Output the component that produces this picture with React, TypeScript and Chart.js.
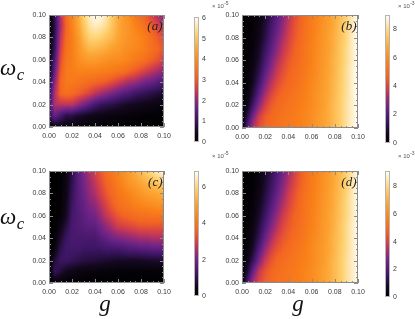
import React, { useEffect, useRef } from "react";
import { Chart, registerables } from "chart.js";

Chart.register(...registerables);

// ---------- data ----------
const G_GRID = [0, 0.005, 0.01, 0.015, 0.02, 0.025, 0.03, 0.035, 0.04, 0.045, 0.05, 0.055, 0.06, 0.065, 0.07, 0.075, 0.08, 0.085, 0.09, 0.095, 0.1];
const W_GRID = [0.1, 0.09, 0.08, 0.07, 0.06, 0.05, 0.04, 0.03, 0.02, 0.01, 0];
const AXIS_TICKS = [0, 0.02, 0.04, 0.06, 0.08, 0.1];
const MINOR_TICKS = [0, 0.005, 0.01, 0.015, 0.02, 0.025, 0.03, 0.035, 0.04, 0.045, 0.05, 0.055, 0.06, 0.065, 0.07, 0.075, 0.08, 0.085, 0.09, 0.095, 0.1];

// panel (a), units of 1e-5, rows from omega_c = 0.10 down to 0.00
const PANEL_A_VALUES = [
  [0, 0.9, 2.3, 3.3, 3.9, 4.5, 5.2, 5.7, 6.0, 5.9, 5.6, 5.1, 4.6, 4.3, 4.0, 3.6, 3.3, 3.0, 2.6, 2.2, 1.9],
  [0, 0.8, 2.2, 3.2, 3.8, 4.4, 5.0, 5.5, 5.7, 5.6, 5.4, 5.0, 4.6, 4.3, 4.1, 3.8, 3.6, 3.3, 3.0, 2.7, 2.4],
  [0.05, 0.9, 2.4, 3.3, 3.7, 4.2, 4.8, 5.2, 5.3, 5.2, 5.0, 4.8, 4.5, 4.3, 4.1, 4.0, 3.8, 3.6, 3.3, 3.0, 2.8],
  [0.1, 1.0, 2.6, 3.4, 3.7, 4.1, 4.5, 4.8, 4.8, 4.7, 4.6, 4.4, 4.3, 4.1, 4.0, 3.9, 3.8, 3.6, 3.4, 3.2, 2.9],
  [0.15, 1.3, 2.8, 3.5, 3.7, 4.0, 4.2, 4.3, 4.3, 4.2, 4.1, 4.0, 4.0, 3.9, 3.8, 3.6, 3.5, 3.3, 3.1, 2.9, 2.6],
  [0.25, 1.6, 3.0, 3.6, 3.7, 3.8, 3.8, 3.8, 3.8, 3.7, 3.7, 3.6, 3.5, 3.4, 3.2, 3.0, 2.8, 2.6, 2.4, 2.2, 2.0],
  [0.5, 2.0, 3.2, 3.6, 3.6, 3.5, 3.4, 3.3, 3.2, 3.1, 3.0, 2.8, 2.6, 2.4, 2.2, 2.1, 1.9, 1.7, 1.6, 1.4, 1.3],
  [0.8, 2.3, 3.2, 3.4, 3.3, 3.1, 2.9, 2.7, 2.4, 2.2, 2.0, 1.8, 1.6, 1.4, 1.3, 1.1, 1.0, 0.9, 0.8, 0.7, 0.6],
  [1.0, 2.3, 2.4, 2.4, 2.4, 2.1, 1.8, 1.5, 1.2, 1.0, 0.9, 0.8, 0.7, 0.6, 0.5, 0.45, 0.4, 0.35, 0.3, 0.25, 0.2],
  [0.9, 1.6, 1.2, 0.8, 0.8, 0.6, 0.5, 0.4, 0.35, 0.3, 0.25, 0.22, 0.2, 0.17, 0.15, 0.12, 0.1, 0.08, 0.07, 0.06, 0.05],
  [0.2, 0.3, 0.3, 0.2, 0.15, 0.1, 0.08, 0.06, 0.05, 0.04, 0.03, 0.03, 0.03, 0.02, 0.02, 0.02, 0.02, 0.02, 0.01, 0.01, 0.01],
];

// panel (b), units of 1e-3
const PANEL_B_VALUES = [
  [0, 0.05, 0.15, 0.4, 0.9, 1.5, 2.1, 2.8, 3.5, 4.1, 4.6, 5.0, 5.4, 5.8, 6.1, 6.5, 6.9, 7.3, 7.8, 8.4, 9.0],
  [0, 0.06, 0.2, 0.5, 1.0, 1.7, 2.3, 3.0, 3.7, 4.3, 4.7, 5.1, 5.5, 5.8, 6.2, 6.5, 6.9, 7.4, 7.9, 8.4, 9.0],
  [0, 0.08, 0.25, 0.6, 1.2, 1.9, 2.6, 3.3, 3.9, 4.4, 4.8, 5.2, 5.5, 5.9, 6.2, 6.6, 7.0, 7.4, 7.9, 8.5, 9.0],
  [0, 0.1, 0.3, 0.8, 1.5, 2.2, 2.9, 3.6, 4.1, 4.6, 4.9, 5.3, 5.6, 5.9, 6.3, 6.6, 7.0, 7.5, 8.0, 8.5, 9.0],
  [0, 0.12, 0.4, 1.0, 1.8, 2.6, 3.3, 3.9, 4.4, 4.7, 5.0, 5.3, 5.6, 6.0, 6.3, 6.7, 7.1, 7.5, 8.0, 8.5, 9.0],
  [0, 0.15, 0.6, 1.3, 2.2, 3.0, 3.7, 4.2, 4.6, 4.9, 5.1, 5.4, 5.7, 6.0, 6.4, 6.7, 7.1, 7.6, 8.1, 8.6, 9.0],
  [0, 0.2, 0.8, 1.7, 2.7, 3.5, 4.1, 4.5, 4.8, 5.0, 5.2, 5.5, 5.8, 6.1, 6.4, 6.8, 7.2, 7.6, 8.1, 8.6, 9.0],
  [0, 0.3, 1.2, 2.3, 3.3, 4.0, 4.5, 4.8, 5.0, 5.2, 5.4, 5.6, 5.9, 6.2, 6.5, 6.8, 7.2, 7.7, 8.1, 8.6, 9.0],
  [0, 0.6, 1.8, 3.0, 3.9, 4.5, 4.8, 5.0, 5.2, 5.3, 5.5, 5.7, 5.9, 6.2, 6.5, 6.9, 7.3, 7.7, 8.2, 8.6, 9.0],
  [0, 1.3, 2.8, 3.9, 4.5, 4.8, 5.0, 5.2, 5.3, 5.4, 5.6, 5.8, 6.0, 6.3, 6.6, 6.9, 7.3, 7.7, 8.2, 8.6, 9.0],
  [0, 2.2, 3.6, 4.3, 4.7, 4.9, 5.1, 5.2, 5.3, 5.5, 5.6, 5.8, 6.0, 6.3, 6.6, 6.9, 7.3, 7.7, 8.2, 8.6, 9.0],
];

// panel (c), units of 1e-5
const PANEL_C_VALUES = [
  [0, 0.01, 0.05, 0.3, 0.9, 1.6, 2.1, 2.6, 3.0, 3.4, 3.8, 4.1, 4.4, 4.7, 5.0, 5.3, 5.6, 5.9, 6.2, 6.5, 6.8],
  [0, 0.01, 0.06, 0.35, 1.0, 1.6, 2.0, 2.4, 2.8, 3.2, 3.6, 3.9, 4.2, 4.5, 4.8, 5.0, 5.2, 5.4, 5.6, 5.8, 6.0],
  [0, 0.02, 0.08, 0.4, 1.1, 1.6, 1.9, 2.3, 2.6, 3.0, 3.4, 3.7, 4.0, 4.2, 4.4, 4.6, 4.8, 5.0, 5.1, 5.2, 5.3],
  [0, 0.03, 0.1, 0.5, 1.2, 1.6, 1.8, 2.1, 2.3, 2.7, 3.1, 3.5, 3.8, 4.0, 4.1, 4.3, 4.4, 4.5, 4.6, 4.7, 4.7],
  [0, 0.04, 0.15, 0.6, 1.3, 1.5, 1.7, 1.9, 2.0, 2.4, 2.8, 3.1, 3.4, 3.6, 3.7, 3.8, 3.9, 3.9, 4.0, 4.0, 4.0],
  [0, 0.06, 0.4, 0.9, 1.4, 1.5, 1.6, 1.7, 1.7, 2.0, 2.3, 2.6, 2.9, 3.0, 3.1, 3.2, 3.3, 3.3, 3.3, 3.3, 3.3],
  [0, 0.1, 0.7, 1.2, 1.4, 1.4, 1.4, 1.4, 1.4, 1.6, 1.8, 2.0, 2.1, 2.2, 2.3, 2.4, 2.5, 2.5, 2.6, 2.6, 2.6],
  [0, 0.3, 1.0, 1.3, 1.3, 1.3, 1.2, 1.2, 1.2, 1.2, 1.3, 1.3, 1.3, 1.4, 1.5, 1.5, 1.6, 1.6, 1.7, 1.7, 1.7],
  [0, 0.8, 1.2, 1.2, 1.1, 1.0, 0.9, 0.85, 0.8, 0.75, 0.7, 0.65, 0.6, 0.6, 0.6, 0.6, 0.6, 0.65, 0.65, 0.7, 0.7],
  [0, 1.1, 0.8, 0.5, 0.4, 0.3, 0.25, 0.2, 0.2, 0.18, 0.16, 0.15, 0.14, 0.13, 0.12, 0.11, 0.1, 0.1, 0.1, 0.1, 0.1],
  [0, 0.1, 0.05, 0.03, 0.02, 0.02, 0.01, 0.01, 0.01, 0.01, 0.01, 0.01, 0.01, 0.01, 0.01, 0, 0, 0, 0, 0, 0],
];

// panel (d), units of 1e-3
const PANEL_D_VALUES = [
  [0, 0.04, 0.12, 0.35, 0.8, 1.3, 1.9, 2.5, 3.2, 3.9, 4.5, 5.0, 5.4, 5.8, 6.1, 6.5, 6.9, 7.3, 7.8, 8.4, 9.0],
  [0, 0.05, 0.15, 0.4, 0.9, 1.5, 2.1, 2.8, 3.5, 4.1, 4.6, 5.1, 5.5, 5.8, 6.2, 6.5, 6.9, 7.4, 7.9, 8.4, 9.0],
  [0, 0.06, 0.2, 0.5, 1.1, 1.7, 2.4, 3.1, 3.8, 4.3, 4.8, 5.2, 5.5, 5.9, 6.2, 6.6, 7.0, 7.4, 7.9, 8.5, 9.0],
  [0, 0.08, 0.25, 0.7, 1.3, 2.0, 2.7, 3.4, 4.0, 4.5, 4.9, 5.3, 5.6, 5.9, 6.3, 6.6, 7.0, 7.5, 8.0, 8.5, 9.0],
  [0, 0.1, 0.35, 0.9, 1.6, 2.4, 3.1, 3.8, 4.3, 4.7, 5.0, 5.3, 5.6, 6.0, 6.3, 6.7, 7.1, 7.5, 8.0, 8.5, 9.0],
  [0, 0.12, 0.5, 1.2, 2.0, 2.8, 3.5, 4.1, 4.5, 4.8, 5.1, 5.4, 5.7, 6.0, 6.4, 6.7, 7.1, 7.6, 8.1, 8.6, 9.0],
  [0, 0.16, 0.7, 1.5, 2.5, 3.3, 4.0, 4.4, 4.7, 5.0, 5.2, 5.5, 5.8, 6.1, 6.4, 6.8, 7.2, 7.6, 8.1, 8.6, 9.0],
  [0, 0.25, 1.0, 2.1, 3.1, 3.9, 4.4, 4.7, 5.0, 5.2, 5.4, 5.6, 5.9, 6.2, 6.5, 6.8, 7.2, 7.7, 8.1, 8.6, 9.0],
  [0, 0.5, 1.6, 2.8, 3.8, 4.4, 4.8, 5.0, 5.2, 5.3, 5.5, 5.7, 5.9, 6.2, 6.5, 6.9, 7.3, 7.7, 8.2, 8.6, 9.0],
  [0, 1.1, 2.6, 3.8, 4.4, 4.8, 5.0, 5.2, 5.3, 5.4, 5.6, 5.8, 6.0, 6.3, 6.6, 6.9, 7.3, 7.7, 8.2, 8.6, 9.0],
  [0, 2.0, 3.5, 4.2, 4.6, 4.9, 5.1, 5.2, 5.3, 5.5, 5.6, 5.8, 6.0, 6.3, 6.6, 6.9, 7.3, 7.7, 8.2, 8.6, 9.0],
];

const CB_A_TICKS = [0, 1, 2, 3, 4, 5, 6];
const CB_B_TICKS = [0, 2, 4, 6, 8];
const CB_C_TICKS = [0, 2, 4, 6];
const CB_D_TICKS = [0, 2, 4, 6, 8];
const CB_A_MAX = 6.05;
const CB_B_MAX = 9.0;
const CB_C_MAX = 6.9;
const CB_D_MAX = 9.1;
const CB_A_EXP = "-5";
const CB_B_EXP = "-3";
const CB_C_EXP = "-5";
const CB_D_EXP = "-3";
const PANEL_LABELS = ["(a)", "(b)", "(c)", "(d)"];
const X_TITLE = "g";
const Y_TITLE = "ω";
const Y_TITLE_SUB = "c";

// ---------- styling helpers ----------
const SANS = "'Liberation Sans', Arial, sans-serif";
const SERIF = "'Liberation Serif', 'Times New Roman', serif";
const TICK_COLOR = "#3a3a3a";
const FRAME_COLOR = "#8a8a8a";

const CMAP: number[][] = [
  [0.0, 0, 0, 0],
  [0.08, 20, 8, 32],
  [0.18, 62, 22, 102],
  [0.28, 108, 35, 135],
  [0.36, 162, 45, 110],
  [0.44, 215, 65, 70],
  [0.52, 242, 100, 35],
  [0.62, 249, 128, 25],
  [0.74, 252, 163, 50],
  [0.86, 254, 208, 110],
  [1.0, 255, 255, 250],
];

function cmap(t: number): number[] {
  const v = Math.max(0, Math.min(1, t));
  for (let i = 0; i < CMAP.length - 1; i++) {
    const a = CMAP[i], b = CMAP[i + 1];
    if (v >= a[0] && v <= b[0]) {
      const f = (v - a[0]) / (b[0] - a[0]);
      return [a[1] + (b[1] - a[1]) * f, a[2] + (b[2] - a[2]) * f, a[3] + (b[3] - a[3]) * f];
    }
  }
  const l = CMAP[CMAP.length - 1];
  return [l[1], l[2], l[3]];
}

function locate(arr: number[], v: number): [number, number] {
  const n = arr.length;
  for (let i = 0; i < n - 1; i++) {
    const a = arr[i], b = arr[i + 1];
    const lo = Math.min(a, b), hi = Math.max(a, b);
    if (v >= lo && v <= hi) return [i, (v - a) / (b - a)];
  }
  const asc = arr[n - 1] > arr[0];
  const beforeStart = asc ? v < arr[0] : v > arr[0];
  return beforeStart ? [0, 0] : [n - 2, 1];
}

function sampleGrid(grid: number[][], g: number, w: number): number {
  const [ci, cf] = locate(G_GRID, g);
  const [ri, rf] = locate(W_GRID, w);
  const v00 = grid[ri][ci], v01 = grid[ri][ci + 1];
  const v10 = grid[ri + 1][ci], v11 = grid[ri + 1][ci + 1];
  const top = v00 + (v01 - v00) * cf;
  const bot = v10 + (v11 - v10) * cf;
  return top + (bot - top) * rf;
}

type PanelSpec = {
  key: string;
  left: number; top: number; width: number; height: number;
  padTop: number; padRight: number; yAxisW: number; xAxisH: number;
  values: number[][]; max: number; label: string;
  omega?: { x: number; baseline: number };
  gTitle?: { x: number; baseline: number };
};

type BarSpec = {
  key: string;
  left: number; top: number; width: number; height: number;
  padTop: number; padBottom: number; axisW: number;
  max: number; ticks: number[]; exp: string; expGap: number;
};

function panelConfig(spec: PanelSpec): any {
  const heat = {
    id: "heat_" + spec.key,
    beforeDatasetsDraw(chart: any) {
      const { ctx, chartArea: a } = chart;
      const xs = chart.scales.x, ys = chart.scales.y;
      const w = Math.round(a.right - a.left), h = Math.round(a.bottom - a.top);
      const off = document.createElement("canvas");
      off.width = w; off.height = h;
      const octx = off.getContext("2d")!;
      const img = octx.createImageData(w, h);
      for (let py = 0; py < h; py++) {
        const wv = ys.getValueForPixel(a.top + py + 0.5);
        for (let px = 0; px < w; px++) {
          const gv = xs.getValueForPixel(a.left + px + 0.5);
          const c = cmap(sampleGrid(spec.values, gv, wv) / spec.max);
          const k = (py * w + px) * 4;
          img.data[k] = c[0]; img.data[k + 1] = c[1]; img.data[k + 2] = c[2]; img.data[k + 3] = 255;
        }
      }
      octx.putImageData(img, 0, 0);
      ctx.drawImage(off, a.left, a.top, w, h);
    },
    afterDraw(chart: any) {
      const { ctx, chartArea: a } = chart;
      const xs = chart.scales.x, ys = chart.scales.y;
      ctx.save();
      ctx.strokeStyle = FRAME_COLOR;
      ctx.lineWidth = 1;
      ctx.strokeRect(a.left + 0.5, a.top + 0.5, a.right - a.left - 1, a.bottom - a.top - 1);
      ctx.beginPath();
      for (const t of MINOR_TICKS) {
        const major = AXIS_TICKS.some((m) => Math.abs(m - t) < 1e-9);
        const len = major ? 4 : 2;
        const px = Math.round(xs.getPixelForValue(t)) + 0.5;
        ctx.moveTo(px, a.bottom); ctx.lineTo(px, a.bottom - len);
        ctx.moveTo(px, a.top); ctx.lineTo(px, a.top + len);
        const py = Math.round(ys.getPixelForValue(t)) + 0.5;
        ctx.moveTo(a.left, py); ctx.lineTo(a.left + len, py);
        ctx.moveTo(a.right, py); ctx.lineTo(a.right - len, py);
      }
      ctx.stroke();
      ctx.fillStyle = "#222";
      ctx.font = "italic 13px " + SERIF;
      ctx.textAlign = "right";
      ctx.textBaseline = "alphabetic";
      ctx.fillText(spec.label, a.right - 1.5, a.top + 14.5);
      ctx.fillStyle = "#111";
      if (spec.omega) {
        ctx.textAlign = "left";
        ctx.font = "italic 23px " + SERIF;
        ctx.fillText(Y_TITLE, spec.omega.x, spec.omega.baseline);
        const ow = ctx.measureText(Y_TITLE).width;
        ctx.font = "italic 17px " + SERIF;
        ctx.fillText(Y_TITLE_SUB, spec.omega.x + ow + 0.5, spec.omega.baseline + 5);
      }
      if (spec.gTitle) {
        ctx.textAlign = "center";
        ctx.font = "italic 23px " + SERIF;
        ctx.fillText(X_TITLE, spec.gTitle.x, spec.gTitle.baseline);
      }
      ctx.restore();
    },
  };
  const axisCommon = {
    type: "linear",
    min: 0,
    max: 0.1,
    grid: { display: false, drawTicks: false },
    border: { display: false },
    afterBuildTicks: (s: any) => { s.ticks = AXIS_TICKS.map((v) => ({ value: v })); },
  };
  return {
    type: "scatter",
    data: { datasets: [] },
    options: {
      responsive: false,
      animation: false,
      events: [],
      layout: { padding: { left: 0, top: spec.padTop, right: spec.padRight, bottom: 0 } },
      plugins: { legend: { display: false }, tooltip: { enabled: false }, title: { display: false } },
      scales: {
        x: {
          ...axisCommon,
          position: "bottom",
          afterFit: (s: any) => { s.height = spec.xAxisH; },
          ticks: { padding: 5, color: TICK_COLOR, font: { family: SANS, size: 7 }, maxRotation: 0, autoSkip: false, callback: (v: any) => Number(v).toFixed(2) },
        },
        y: {
          ...axisCommon,
          position: "left",
          afterFit: (s: any) => { s.width = spec.yAxisW; },
          ticks: { padding: 3, color: TICK_COLOR, font: { family: SANS, size: 7 }, autoSkip: false, callback: (v: any) => Number(v).toFixed(2) },
        },
      },
    },
    plugins: [heat],
  };
}

function barConfig(spec: BarSpec): any {
  const bar = {
    id: "bar_" + spec.key,
    beforeDatasetsDraw(chart: any) {
      const { ctx, chartArea: a } = chart;
      const ys = chart.scales.y;
      for (let py = Math.floor(a.top); py < a.bottom; py++) {
        const c = cmap(ys.getValueForPixel(py + 0.5) / spec.max);
        ctx.fillStyle = `rgb(${Math.round(c[0])},${Math.round(c[1])},${Math.round(c[2])})`;
        ctx.fillRect(a.left, py, a.right - a.left, 1);
      }
      ctx.save();
      ctx.strokeStyle = "#b5b5b5";
      ctx.lineWidth = 1;
      ctx.strokeRect(a.left + 0.5, a.top + 0.5, a.right - a.left - 1, a.bottom - a.top - 1);
      ctx.restore();
    },
    afterDraw(chart: any) {
      const { ctx, chartArea: a } = chart;
      ctx.save();
      ctx.fillStyle = "#555";
      ctx.textAlign = "left";
      ctx.textBaseline = "alphabetic";
      ctx.font = "6px " + SANS;
      const x0 = a.right + spec.expGap;
      ctx.fillText("× 10", x0, 7.5);
      const w = ctx.measureText("× 10").width;
      ctx.font = "5px " + SANS;
      ctx.fillText(spec.exp, x0 + w + 0.3, 5);
      ctx.restore();
    },
  };
  return {
    type: "scatter",
    data: { datasets: [] },
    options: {
      responsive: false,
      animation: false,
      events: [],
      layout: { padding: { left: 9, top: spec.padTop, right: 0, bottom: spec.padBottom } },
      plugins: { legend: { display: false }, tooltip: { enabled: false } },
      scales: {
        x: { type: "linear", display: false, min: 0, max: 1 },
        y: {
          type: "linear",
          position: "right",
          min: 0,
          max: spec.max,
          grid: { display: false, drawTicks: false },
          border: { display: false },
          afterBuildTicks: (s: any) => { s.ticks = spec.ticks.map((v) => ({ value: v })); },
          afterFit: (s: any) => { s.width = spec.axisW; },
          ticks: { padding: 3, color: TICK_COLOR, font: { family: SANS, size: 7 }, autoSkip: false, callback: (v: any) => String(v) },
        },
      },
    },
    plugins: [bar],
  };
}

function ChartCanvas({ left, top, width, height, makeConfig }: { left: number; top: number; width: number; height: number; makeConfig: () => any }) {
  const ref = useRef<HTMLCanvasElement>(null);
  useEffect(() => {
    const chart = new Chart(ref.current as HTMLCanvasElement, makeConfig());
    return () => chart.destroy();
  }, []);
  return (
    <canvas
      ref={ref}
      width={width}
      height={height}
      style={{ position: "absolute", left, top, width, height, display: "block" }}
    />
  );
}

const PANELS: PanelSpec[] = [
  { key: "a", left: 0, top: 0, width: 180, height: 160, padTop: 15, padRight: 16, yAxisW: 49, xAxisH: 33, values: PANEL_A_VALUES, max: CB_A_MAX, label: PANEL_LABELS[0], omega: { x: 0, baseline: 75 } },
  { key: "b", left: 200, top: 0, width: 175, height: 160, padTop: 15, padRight: 17, yAxisW: 42, xAxisH: 32, values: PANEL_B_VALUES, max: CB_B_MAX, label: PANEL_LABELS[1] },
  { key: "c", left: 0, top: 160, width: 180, height: 159, padTop: 11, padRight: 16, yAxisW: 49, xAxisH: 36, values: PANEL_C_VALUES, max: CB_C_MAX, label: PANEL_LABELS[2], omega: { x: 0, baseline: 64 }, gTitle: { x: 105, baseline: 151 } },
  { key: "d", left: 200, top: 160, width: 175, height: 159, padTop: 11, padRight: 17, yAxisW: 42, xAxisH: 36, values: PANEL_D_VALUES, max: CB_D_MAX, label: PANEL_LABELS[3], gTitle: { x: 98, baseline: 151 } },
];

const BARS: BarSpec[] = [
  { key: "ca", left: 185, top: 0, width: 45, height: 160, padTop: 17, padBottom: 18, axisW: 31, max: CB_A_MAX, ticks: CB_A_TICKS, exp: CB_A_EXP, expGap: 13 },
  { key: "cb", left: 376, top: 0, width: 39, height: 160, padTop: 15, padBottom: 17, axisW: 25, max: CB_B_MAX, ticks: CB_B_TICKS, exp: CB_B_EXP, expGap: 8 },
  { key: "cc", left: 185, top: 150, width: 45, height: 169, padTop: 21, padBottom: 23, axisW: 31, max: CB_C_MAX, ticks: CB_C_TICKS, exp: CB_C_EXP, expGap: 13 },
  { key: "cd", left: 376, top: 150, width: 39, height: 169, padTop: 21, padBottom: 22, axisW: 25, max: CB_D_MAX, ticks: CB_D_TICKS, exp: CB_D_EXP, expGap: 8 },
];

export default function App() {
  return (
    <div style={{ position: "fixed", left: 0, top: 0, width: 415, height: 319, background: "#fff", overflow: "hidden" }}>
      {PANELS.map((p) => (
        <ChartCanvas key={p.key} left={p.left} top={p.top} width={p.width} height={p.height} makeConfig={() => panelConfig(p)} />
      ))}
      {BARS.map((b) => (
        <ChartCanvas key={b.key} left={b.left} top={b.top} width={b.width} height={b.height} makeConfig={() => barConfig(b)} />
      ))}
    </div>
  );
}
